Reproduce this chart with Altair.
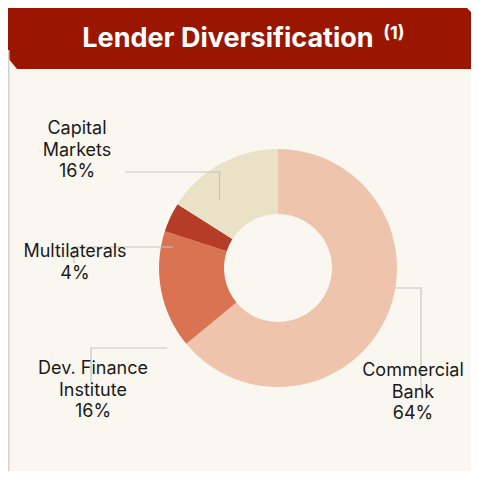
import altair as alt
import pandas as pd

# Data
categories = ["Commercial Bank", "Dev. Finance Institute", "Multilaterals", "Capital Markets"]
shares = [64, 16, 4, 16]
colors = ["#EFC4AD", "#D97352", "#B53D27", "#E9E2C6"]
label_texts = ["Commercial\nBank\n64%", "Dev. Finance\nInstitute\n16%", "Multilaterals\n4%", "Capital\nMarkets\n16%"]

# Annotation positions (screen-like coordinates used through linear scales)
label_x = [413, 93, 75, 77]
label_y = [376, 374, 257, 134]
leader_x = [[395, 421, 421], [167, 91, 91], [173, 74, 74], [125, 219.5, 219.5]]
leader_y = [[288, 288, 390], [348, 348, 382], [247, 247, 263], [172, 172, 200]]

banner_x = [8, 17, 464, 471]
banner_y = [5, 5, 5, 12]
banner_y2 = [58, 69, 69, 69]

W, H = 463, 463
xs = alt.Scale(domain=[8, 471], range=[0, W], zero=False, nice=False)
ys = alt.Scale(domain=[8, 471], range=[0, H], zero=False, nice=False)

pie_df = pd.DataFrame({"category": categories, "share": shares, "order": list(range(len(categories)))})
lab_df = pd.DataFrame({"text": label_texts, "x": label_x, "y": label_y})
lead_rows = []
for i, (lx, ly) in enumerate(zip(leader_x, leader_y)):
    for j, (a, b) in enumerate(zip(lx, ly)):
        lead_rows.append({"id": i, "k": j, "x": a, "y": b})
lead_df = pd.DataFrame(lead_rows)
ban_df = pd.DataFrame({"x": banner_x, "y": banner_y, "y2": banner_y2})
border_df = pd.DataFrame({"x": [8.8, 8.8], "y": [50, 471]})

banner = alt.Chart(ban_df).mark_area(color="#9B1600", interpolate="linear").encode(
    x=alt.X("x:Q", scale=xs, axis=None),
    y=alt.Y("y:Q", scale=ys, axis=None),
    y2="y2:Q",
)

border = alt.Chart(border_df).mark_line(color="#D6D2CC", strokeWidth=1.5).encode(
    x=alt.X("x:Q", scale=xs, axis=None),
    y=alt.Y("y:Q", scale=ys, axis=None),
)

title = alt.Chart(pd.DataFrame({"t": ["Lender Diversification"]})).mark_text(
    font="Inter", fontSize=27, fontWeight="bold", color="white", align="center", baseline="alphabetic"
).encode(text="t:N", x=alt.value(228 - 8), y=alt.value(47 - 8))

sup = alt.Chart(pd.DataFrame({"t": ["(1)"]})).mark_text(
    font="Inter", fontSize=18, fontWeight="bold", color="white", align="center", baseline="alphabetic"
).encode(text="t:N", x=alt.value(394 - 8), y=alt.value(39 - 8))

donut = alt.Chart(pie_df).mark_arc(innerRadius=54, outerRadius=119).encode(
    theta=alt.Theta("share:Q", stack=True),
    order=alt.Order("order:Q"),
    color=alt.Color("category:N", scale=alt.Scale(domain=categories, range=colors), legend=None),
    x=alt.value(278 - 8),
    y=alt.value(268 - 8),
)

leaders = alt.Chart(lead_df).mark_line(color="#C6C6C6", strokeWidth=1.2).encode(
    x=alt.X("x:Q", scale=xs, axis=None),
    y=alt.Y("y:Q", scale=ys, axis=None),
    detail="id:N",
    order="k:Q",
)

labels = alt.Chart(lab_df).mark_text(
    font="Inter", fontSize=18, lineBreak="\n", lineHeight=21.7, align="center",
    baseline="alphabetic", color="#1A1A1A"
).encode(
    x=alt.X("x:Q", scale=xs, axis=None),
    y=alt.Y("y:Q", scale=ys, axis=None),
    text="text:N",
)

chart = alt.layer(banner, border, title, sup, donut, leaders, labels).properties(
    width=W, height=H, padding=0, autosize=alt.AutoSizeParams(type="none"), background="#FAF7F0"
).configure_view(stroke=None)

chart.save("out.html", embed_options={"renderer": "svg", "actions": False})
